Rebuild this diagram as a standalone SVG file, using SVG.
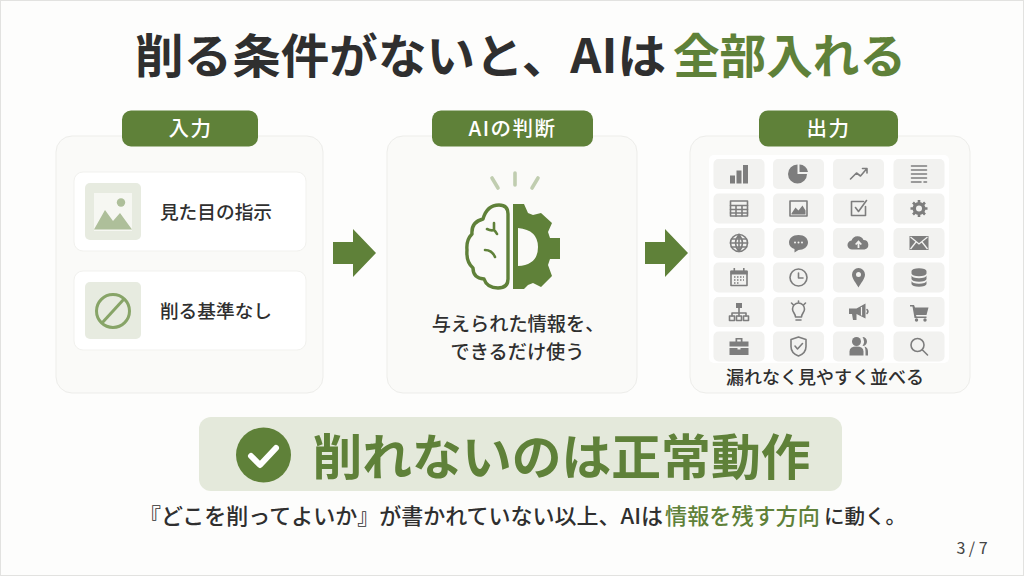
<svg xmlns="http://www.w3.org/2000/svg" width="1024" height="576" viewBox="0 0 1024 576">
<style>
text{font-family:"Noto Sans CJK JP","Noto Sans",sans-serif;font-weight:700;fill:#2f2f2f;text-anchor:middle}
.st{text-anchor:start}
.green{fill:#5f8139}
.panel{fill:#fafaf8;stroke:#ededea;stroke-width:1}
.pill{fill:#5f8139}
.pl{fill:#fff;font-size:20.500px;letter-spacing:1.500px;font-weight:500}
.row{fill:#fff;stroke:#f1f1ee;stroke-width:1}
.lab{font-size:18.700px;font-weight:500}
.mid{font-size:19.200px;font-weight:500}
.cell{fill:#f2f2f0}
.g{fill:#7d7d7d}
.gs{fill:none;stroke:#7d7d7d;stroke-width:1.600;stroke-linecap:round;stroke-linejoin:round}
.br{fill:none;stroke:#5f8139;stroke-width:3.400;stroke-linecap:round;stroke-linejoin:round}
.ray{stroke:#c0cdb0;stroke-width:3.600;stroke-linecap:round}
</style>
<defs>
<path id="arrow" d="M-21,-11H-1V-24L22,0L-1,24V11H-21Z" fill="#5f8139"/>
<rect id="cell" class="cell" x="-25.500" y="-15" width="51" height="30" rx="5"/>
</defs>
<rect x="0.500" y="0.500" width="1023" height="575" fill="#fdfdfc" stroke="#e2e2e0"/>
<g id="title">
<text class="st" x="135" y="73" font-size="47" textLength="531" lengthAdjust="spacingAndGlyphs">削る条件がないと、AIは</text>
<text class="st green" x="673" y="73" font-size="47" textLength="233" lengthAdjust="spacingAndGlyphs">全部入れる</text>
</g>

<g id="node-input">
<rect class="panel" x="56" y="136" width="267" height="257" rx="16"/>
<rect class="pill" x="122" y="110.500" width="136" height="36" rx="9"/>
<text class="pl" x="190.500" y="135.500">入力</text>
<rect class="row" x="74" y="172" width="232" height="79" rx="9"/>
<rect x="85" y="183" width="56" height="57" rx="5" fill="#e7ebe0"/>
<rect x="94" y="193" width="38" height="38" fill="#f6f7f2"/>
<circle cx="121" cy="202.500" r="4.200" fill="#aebf9a"/>
<path d="M94,229.500L105,210L113,221L120,213L132,229.500Z" fill="#aebf9a"/>
<text class="lab" x="216" y="218.500">見た目の指示</text>
<rect class="row" x="74" y="271" width="232" height="79" rx="9"/>
<rect x="85" y="282" width="56" height="57" rx="5" fill="#e7ebe0"/>
<circle cx="113" cy="311" r="16.500" fill="none" stroke="#87a467" stroke-width="3"/>
<path d="M102,323L124,299" fill="none" stroke="#87a467" stroke-width="3"/>
<text class="lab" x="216" y="317.500">削る基準なし</text>
</g>

<g id="node-ai">
<rect class="panel" x="387" y="136" width="250" height="257" rx="16"/>
<rect class="pill" x="432" y="110.500" width="161" height="36" rx="9"/>
<text class="pl" x="512.500" y="135.500">AIの判断</text>
<g class="ray"><path d="M515,173V185"/><path d="M492,178L498,188"/><path d="M538,178L532,188"/></g>
<path class="br" d="M508,214V279Q508,288 498,288Q487,288 484,279Q473,278 473,268Q466,262 467,250Q466,240 472,234Q471,222 483,219Q487,205 499,205Q508,205 508,214Z"/>
<path d="M494,223V229M487,229Q491,231 494,230Q496,232 497,234M485,250Q492,250 495,257" fill="none" stroke="#5f8139" stroke-width="2.600" stroke-linecap="round"/>
<path fill="#5f8139" fill-rule="evenodd" d="M513,204H524L528,213L533,215L541,213L552,223L548,232L550,238H560V259H550L548,265L552,276L541,287L533,283L528,285L524,289H513ZM518,228V266Q538,265 538,247Q538,230 518,228Z"/>
<text class="mid" x="518" y="331">与えられた情報を、</text>
<text class="mid" x="517.500" y="359">できるだけ使う</text>
</g>

<g id="node-output">
<rect class="panel" x="690" y="136" width="280" height="257" rx="16"/>
<rect class="pill" x="759" y="110.500" width="139" height="36" rx="9"/>
<text class="pl" x="828.500" y="135.500">出力</text>
<rect x="709" y="155" width="240" height="208" rx="5" fill="#fff"/>
<g id="cells">
<use href="#cell" x="739" y="174"/><use href="#cell" x="798.500" y="174"/><use href="#cell" x="858.500" y="174"/><use href="#cell" x="919" y="174"/>
<use href="#cell" x="739" y="208.500"/><use href="#cell" x="798.500" y="208.500"/><use href="#cell" x="858.500" y="208.500"/><use href="#cell" x="919" y="208.500"/>
<use href="#cell" x="739" y="243"/><use href="#cell" x="798.500" y="243"/><use href="#cell" x="858.500" y="243"/><use href="#cell" x="919" y="243"/>
<use href="#cell" x="739" y="277.500"/><use href="#cell" x="798.500" y="277.500"/><use href="#cell" x="858.500" y="277.500"/><use href="#cell" x="919" y="277.500"/>
<use href="#cell" x="739" y="312"/><use href="#cell" x="798.500" y="312"/><use href="#cell" x="858.500" y="312"/><use href="#cell" x="919" y="312"/>
<use href="#cell" x="739" y="346.500"/><use href="#cell" x="798.500" y="346.500"/><use href="#cell" x="858.500" y="346.500"/><use href="#cell" x="919" y="346.500"/>
</g>
<g transform="translate(739 174)"><path class="g" d="M-9,1.500h5v8h-5zM-2.500,-3.500h5v13h-5zM4,-9h5v18.500h-5z"/></g>
<g transform="translate(798.500 174)"><path class="g" d="M-1,-9.500V0H8.500A9.500,9.500 0 1 1 -1,-9.500Z"/><path class="g" d="M1,-9.500A8.500,8.500 0 0 1 9.500,-2H1Z"/></g>
<g transform="translate(858.500 174)"><path class="gs" d="M-8,5L-2,-1L2,2L8,-5M4,-5.500H8.500V-1"/></g>
<g transform="translate(919 174)"><path class="gs" d="M-7.500,-8H7.500M-7.500,-4H7.500M-7.500,0H7.500M-7.500,4H7.500M-7.500,8H2M5,8H7.500"/></g>
<g transform="translate(739 208.500)"><rect class="gs" x="-8.500" y="-7.500" width="17" height="15"/><path class="gs" d="M-8.500,-3H8.500M-8.500,1H8.500M-8.500,4.500H8.500M-3,-3V7.500M3,-3V7.500" stroke-width="1"/></g>
<g transform="translate(798.500 208.500)"><rect class="gs" x="-8.500" y="-7.500" width="17" height="15"/><path class="g" d="M-7,5L-3,-1L0,2L4,-3L7,2V6H-7Z"/></g>
<g transform="translate(858.500 208.500)"><path class="gs" d="M5,-7H-7V7H7V-2M-3,-1L0,3L8,-8"/></g>
<g transform="translate(919 208.500)"><circle class="g" r="6.500"/><path d="M0,-8.500V8.500M-8.500,0H8.500M-6,-6L6,6M6,-6L-6,6" stroke="#7d7d7d" stroke-width="2.600"/><circle r="3" fill="#f2f2f0"/></g>
<g transform="translate(739 243)"><circle class="gs" r="8.500"/><path class="gs" d="M-8.500,0H8.500M-7.500,-4H7.500M-7.500,4H7.500M0,-8.500V8.500M0,-8.500Q-7,0 0,8.500M0,-8.500Q7,0 0,8.500" stroke-width="1"/></g>
<g transform="translate(798.500 243)"><path class="g" d="M0,-8C6,-8 9.500,-4.500 9.500,-0.500C9.500,4 5,7 0,7L-4,9.500L-4,6C-7.500,5 -9.500,2.500 -9.500,-0.500C-9.500,-4.500 -6,-8 0,-8Z"/><circle cx="-3.500" cy="-0.500" r="1" fill="#f2f2f0"/><circle cy="-0.500" r="1" fill="#f2f2f0"/><circle cx="3.500" cy="-0.500" r="1" fill="#f2f2f0"/></g>
<g transform="translate(858.500 243)"><path class="g" d="M-6,6.500A4.500,4.500 0 0 1 -7,-2.500A6.500,6.500 0 0 1 5,-3A4.800,4.800 0 0 1 6,6.500Z"/><path d="M0,5V-1M-2.800,1.500L0,-1.500L2.800,1.500" fill="none" stroke="#f2f2f0" stroke-width="1.800"/></g>
<g transform="translate(919 243)"><rect class="g" x="-9.500" y="-7" width="19" height="14"/><path d="M-8.500,-6L0,1L8.500,-6M-8.500,6L-3,-1M8.500,6L3,-1" fill="none" stroke="#f2f2f0" stroke-width="1.300"/></g>
<g transform="translate(739 277.500)"><rect class="gs" x="-8" y="-6" width="16" height="14"/><path class="g" d="M-8.500,-7H8.500V-3H-8.500ZM-5.500,-9.500h1.600v3h-1.600zM4,-9.500h1.600v3H4z"/><path d="M-5,-.5H5M-5,2.500H5M-5,5.500H1" stroke="#7d7d7d" stroke-width="1.300" stroke-dasharray="1.500 1.500"/></g>
<g transform="translate(798.500 277.500)"><circle class="gs" r="8.500"/><path class="gs" d="M0,-4.500V0.500H4.500"/></g>
<g transform="translate(858.500 277.500)"><path class="g" d="M0,10C-2,6 -6.500,1.500 -6.500,-3A6.500,6.500 0 0 1 6.500,-3C6.500,1.500 2,6 0,10Z"/><circle cy="-3" r="2.500" fill="#f2f2f0"/></g>
<g transform="translate(919 277.500)"><path class="g" d="M-7.500,-6.500A7.500,2.800 0 0 1 7.500,-6.500V-4A7.500,2.800 0 0 1 -7.500,-4ZM-7.500,-2A7.500,2.800 0 0 0 7.500,-2V1.500A7.500,2.800 0 0 1 -7.500,1.500ZM-7.500,3.500A7.500,2.800 0 0 0 7.500,3.500V6.500A7.500,2.800 0 0 1 -7.500,6.500Z"/></g>
<g transform="translate(739 312)"><rect class="g" x="-3" y="-9" width="6" height="5"/><path class="gs" d="M0,-4V1M-7,4V1H7V4M0,1V4" stroke-width="1.200"/><rect class="gs" x="-9.500" y="4" width="5" height="4.500" stroke-width="1.200"/><rect class="gs" x="-2.500" y="4" width="5" height="4.500" stroke-width="1.200"/><rect class="gs" x="4.500" y="4" width="5" height="4.500" stroke-width="1.200"/></g>
<g transform="translate(798.500 312)"><path class="gs" d="M-3,5C-3,1.500 -6,0.500 -6,-3A6,6 0 0 1 6,-3C6,0.500 3,1.500 3,5ZM-2.500,8H2.500M-7,-9L-5.500,-7.500M7,-9L5.500,-7.500M0,-11V-10" stroke-width="1.300"/></g>
<g transform="translate(858.500 312)"><path class="g" d="M-9.500,-3.500H-2L7,-8.500V6.500L-2,2V8H-5.500L-6.500,2H-9.500Z"/><path class="gs" d="M8.500,-2.500A3,3 0 0 1 8.500,1.500"/><path d="M3,-5V3.500" stroke="#f2f2f0" stroke-width="1.200"/></g>
<g transform="translate(919 312)"><path class="g" d="M-9,-7H-5L-4,-4.500H9.500L7.500,3H-3L-2.500,4.500H7.500V6H-4.500L-6.500,-5.500H-9Z"/><circle class="g" cx="-2.500" cy="8" r="1.700"/><circle class="g" cx="6" cy="8" r="1.700"/></g>
<g transform="translate(739 346.500)"><path class="g" d="M-9.500,-5H-3.500V-8.500H3.500V-5H9.500V0H-9.500ZM-1.800,-7V-5H1.800V-7ZM-9.500,1.500H-1.500V3H1.500V1.500H9.500V8.500H-9.500Z"/></g>
<g transform="translate(798.500 346.500)"><path class="gs" d="M0,-9.500L7.500,-7V0C7.500,5 4,8 0,9.500C-4,8 -7.500,5 -7.500,0V-7ZM-3.500,-.5L-1,2.500L4,-3" stroke-width="1.400"/></g>
<g transform="translate(858.500 346.500)"><circle class="g" cx="-2" cy="-5" r="4.500"/><path class="g" d="M-9,9V5Q-9,0 -2,0Q5,0 5,5V9Z"/><path class="g" d="M4,-9.500A4.500,4.500 0 0 1 4,-.5A8,8 0 0 0 4,-9.500ZM6,0Q9.500,1 9.500,5V9H7V5Q7,2 6,0Z"/></g>
<g transform="translate(919 346.500)"><circle class="gs" cx="-1.500" cy="-1.500" r="6.500"/><path class="gs" d="M3.500,3.500L8.500,8.500"/></g>
<text x="825" y="384" font-size="18" style="font-weight:500">漏れなく見やすく並べる</text>
</g>

<g id="connectors">
<use href="#arrow" x="354" y="253"/>
<use href="#arrow" x="666" y="253"/>
</g>

<g id="conclusion">
<rect x="199" y="417" width="643" height="74" rx="12" fill="#e4e9db"/>
<circle cx="263.500" cy="455" r="27.500" fill="#5f8139"/>
<path d="M251,456L260,465L276,448" fill="none" stroke="#fff" stroke-width="6" stroke-linecap="round" stroke-linejoin="round"/>
<text class="green" x="561.500" y="474.500" font-size="49" textLength="498" lengthAdjust="spacingAndGlyphs">削れないのは正常動作</text>
</g>
<g id="note">
<text class="st" x="139" y="524" font-size="21.500" textLength="524" lengthAdjust="spacingAndGlyphs" style="font-weight:500">『どこを削ってよいか』が書かれていない以上、AIは</text>
<text class="st green" x="665" y="524" font-size="22" textLength="155" lengthAdjust="spacingAndGlyphs" style="font-weight:500">情報を残す方向</text>
<text class="st" x="824" y="524" font-size="20.500" style="font-weight:500">に動く。</text>
</g>
<g id="page">
<text x="972" y="554" font-size="16" style="font-weight:400;fill:#444">3 / 7</text>
</g>
</svg>
